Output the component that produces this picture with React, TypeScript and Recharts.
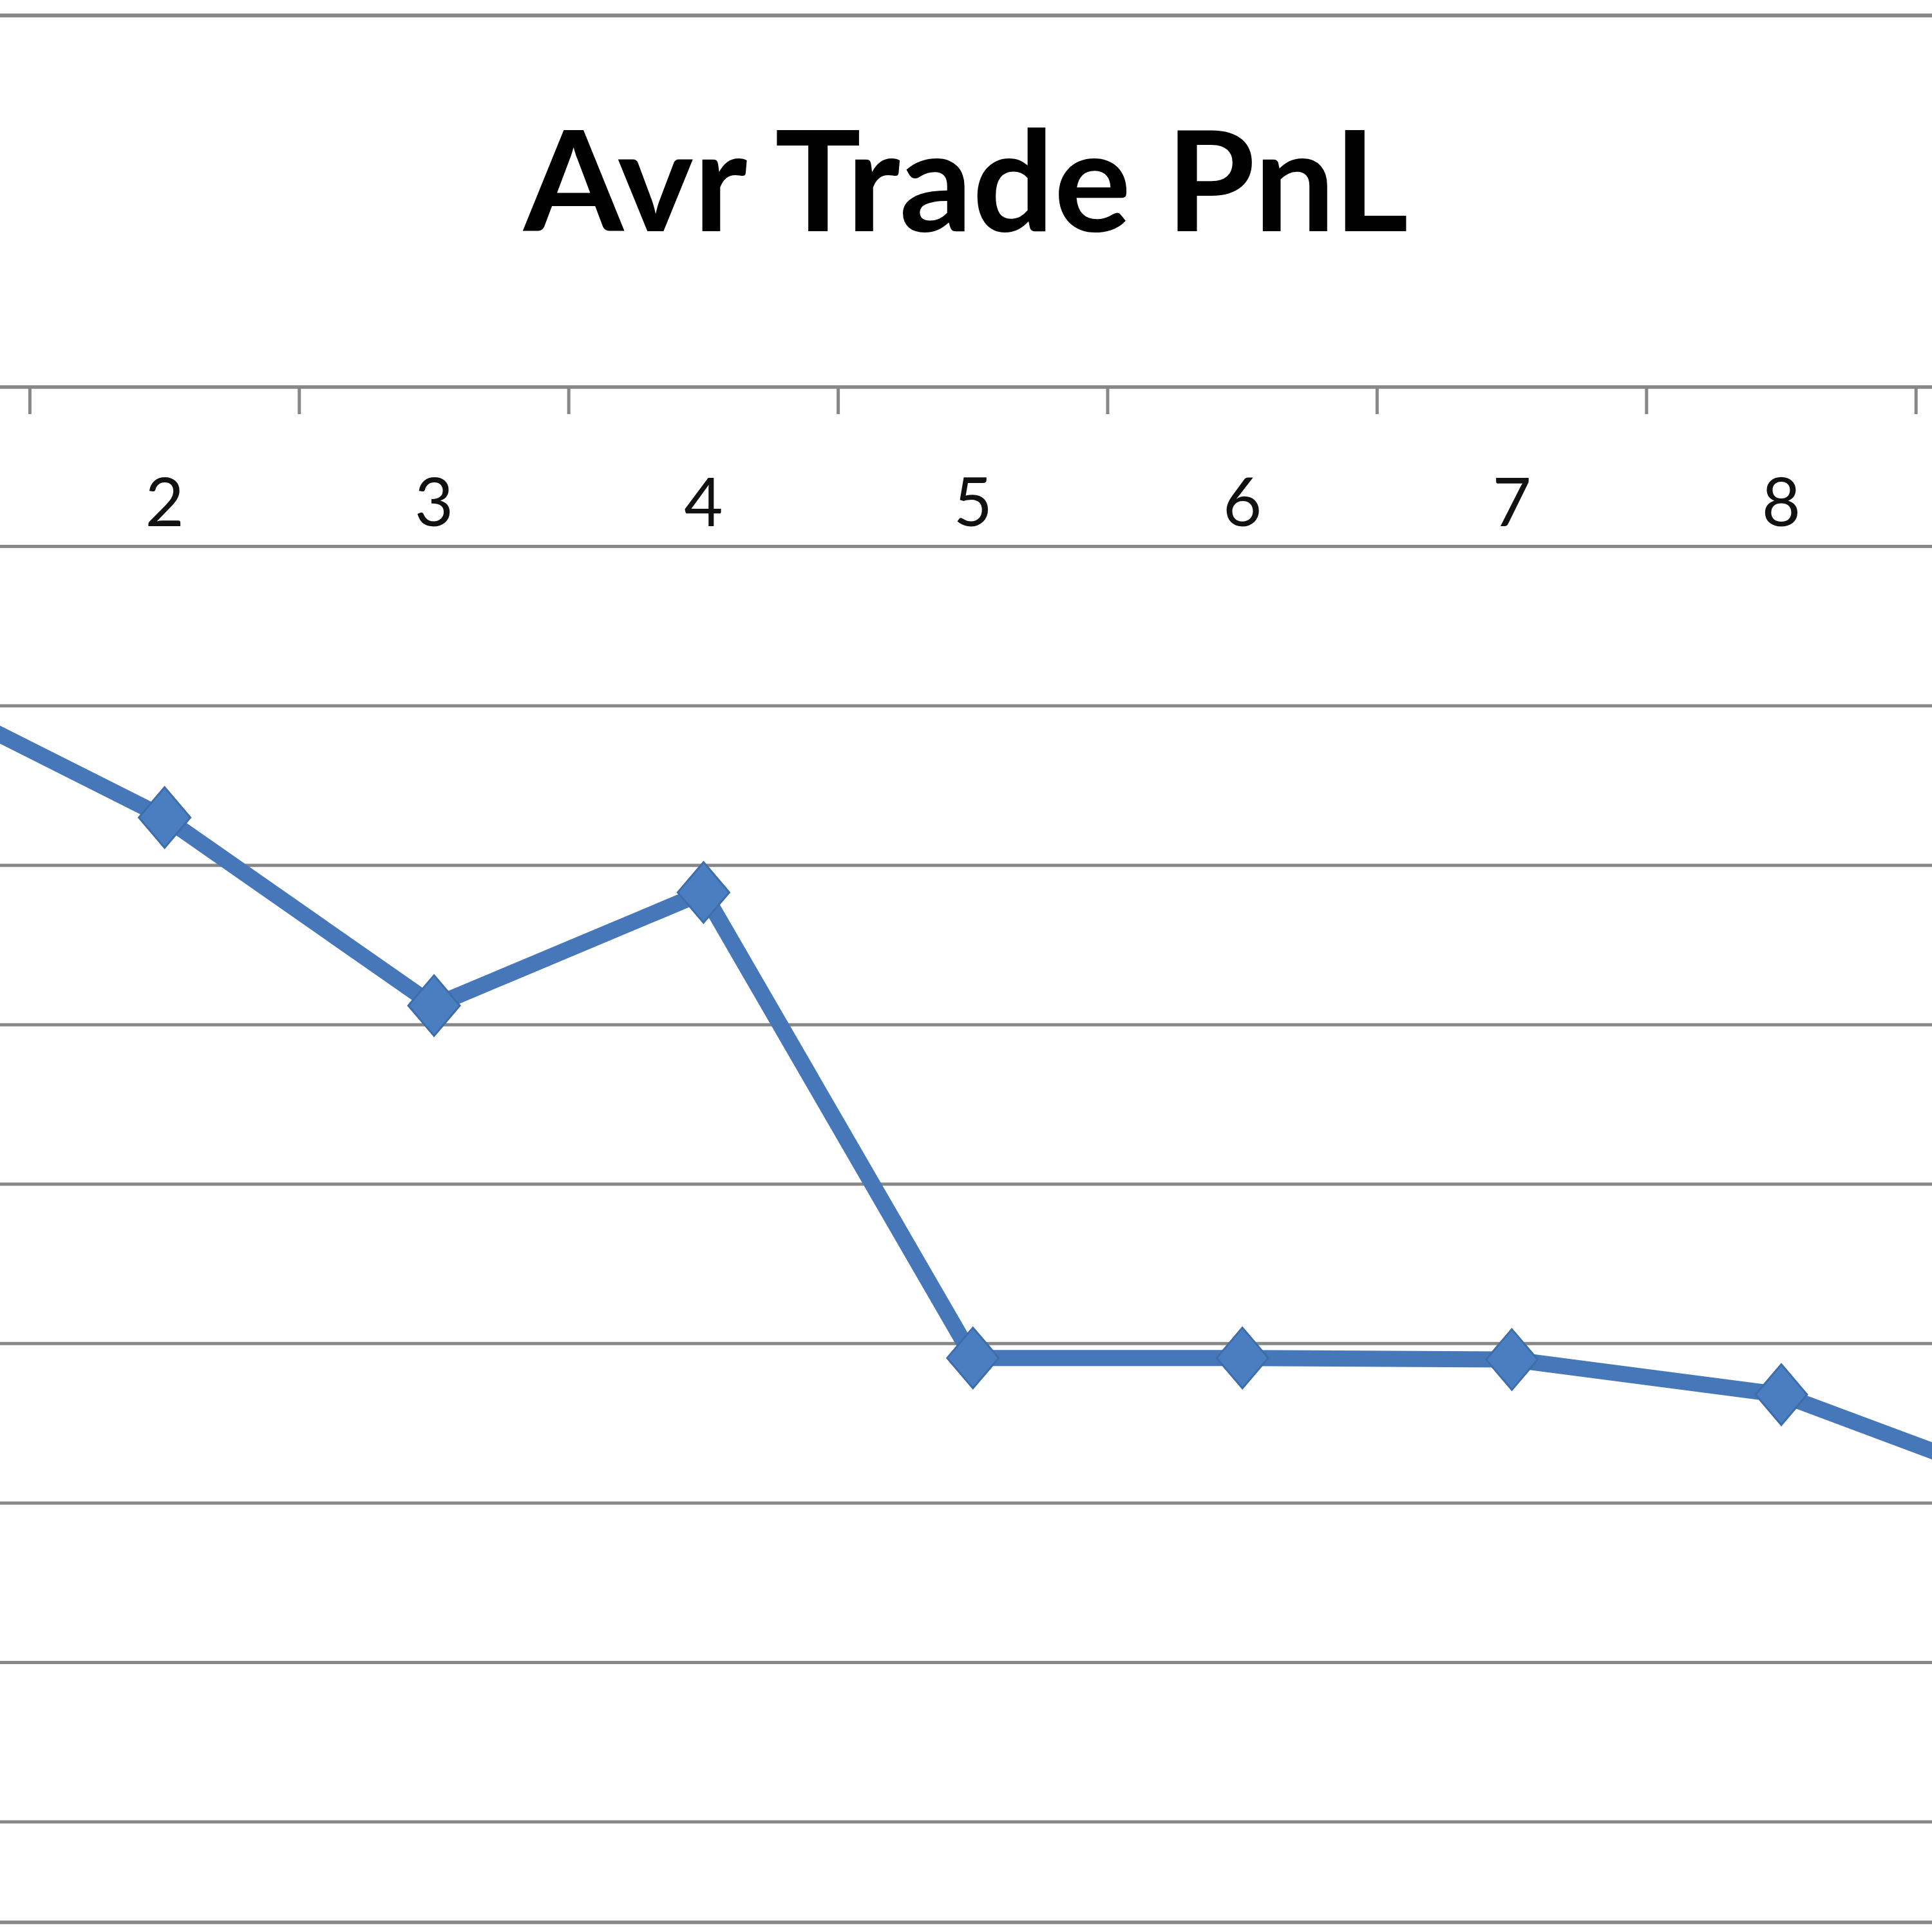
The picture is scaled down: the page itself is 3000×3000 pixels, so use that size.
import { LineChart, Line, XAxis, YAxis, CartesianGrid, ReferenceLine } from "recharts"

// visible part of an Excel chart: trades 1..9 along the top axis, value axis off-screen
const categories = ["1", "2", "3", "4", "5", "6", "7", "8", "9"]
const avgTradePnl = [-1.85, -2.7, -3.88, -3.17, -6.09, -6.09, -6.1, -6.32, -6.95]
const yTicks = [0, -1, -2, -3, -4, -5, -6, -7, -8, -9]
const yMin = -9.63

const data = categories.map((trade, i) => ({ trade, pnl: avgTradePnl[i] }))

const GRID = "#878787"
const BLUE = "#4677B8"
const BAND = 418.4
const PLOT_H = 2384
const LABEL_OFFSET = 142

function Diamond(props: any) {
  const { cx, cy } = props
  if (cx == null || cy == null) return null
  return (
    <polygon
      points={`${cx},${cy - 47} ${cx + 40},${cy} ${cx},${cy + 47} ${cx - 40},${cy}`}
      fill="#4A7EC0"
      stroke="#3E6DAA"
      strokeWidth={3}
    />
  )
}

// Excel puts the tick marks between categories, labels at the centre
function TradeTick(props: any) {
  const { x, y, payload, index } = props
  const axisY = y - LABEL_OFFSET
  const first = index === 0
  const last = index === categories.length - 1
  return (
    <g>
      <line x1={x - BAND / 2} x2={x - BAND / 2} y1={axisY} y2={axisY + 42} stroke={GRID} strokeWidth={5} />
      {last && (
        <line x1={x + BAND / 2} x2={x + BAND / 2} y1={axisY} y2={axisY + 42} stroke={GRID} strokeWidth={5} />
      )}
      {/* trades 1 and 9 fall outside the cropped picture */}
      {!first && !last && (
        <text
          x={x}
          y={y + 74}
          textAnchor="middle"
          fontSize={104}
          fontFamily="Lato, 'Open Sans', sans-serif"
          fill="#111"
        >
          {payload.value}
        </text>
      )}
    </g>
  )
}

export default function App() {
  return (
    <div
      style={{
        position: "absolute",
        left: 0,
        top: 0,
        width: 3000,
        height: 3000,
        overflow: "hidden",
        background: "#fff",
      }}
    >
      <svg width={3000} height={500} style={{ position: "absolute", left: 0, top: 0 }}>
        <line x1={0} x2={3000} y1={24} y2={24} stroke={GRID} strokeWidth={6} />
        <text
          x={1500}
          y={359}
          textAnchor="middle"
          fontFamily="Lato, 'Open Sans', sans-serif"
          fontWeight="bold"
          fontSize={216}
          fill="#000"
          textLength={1374}
          lengthAdjust="spacingAndGlyphs"
        >
          Avr Trade PnL
        </text>
      </svg>
      <div style={{ position: "absolute", left: 46 - BAND, top: 591 }}>
        <LineChart
          width={BAND * categories.length}
          height={PLOT_H + 20}
          data={data}
          margin={{ top: 10, right: 0, bottom: 10, left: 0 }}
        >
          <CartesianGrid vertical={false} stroke={GRID} strokeWidth={5} />
          <YAxis hide type="number" domain={[yMin, 0]} ticks={yTicks} allowDataOverflow />
          <XAxis
            dataKey="trade"
            orientation="top"
            mirror
            interval={0}
            padding={{ left: BAND / 2, right: BAND / 2 }}
            tickLine={false}
            tickSize={0}
            tickMargin={LABEL_OFFSET}
            axisLine={{ stroke: GRID, strokeWidth: 5 }}
            tick={<TradeTick />}
          />
          <ReferenceLine y={yMin} stroke={GRID} strokeWidth={5} />
          <Line
            type="linear"
            dataKey="pnl"
            stroke={BLUE}
            strokeWidth={25}
            dot={<Diamond />}
            activeDot={false}
            isAnimationActive={false}
          />
        </LineChart>
      </div>
    </div>
  )
}
